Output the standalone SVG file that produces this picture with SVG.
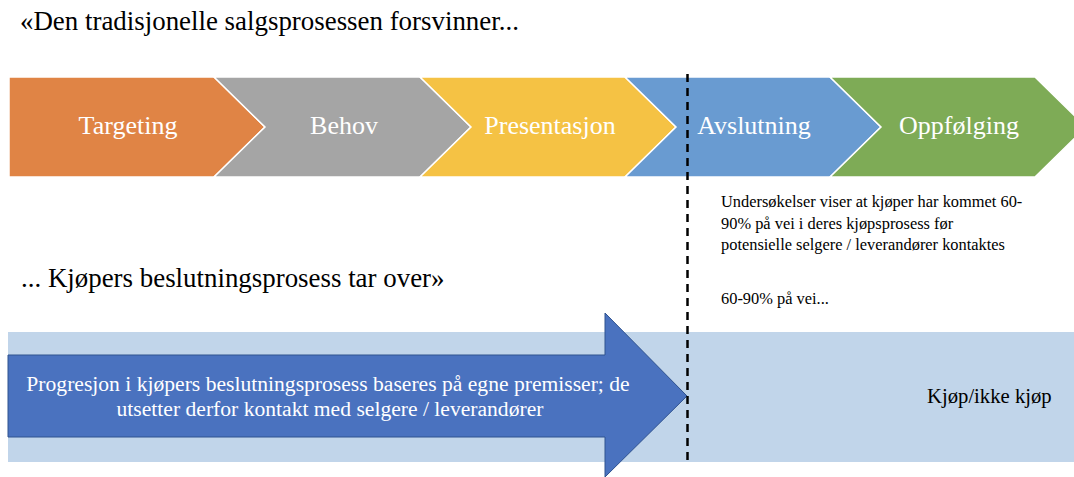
<svg xmlns="http://www.w3.org/2000/svg" width="1074" height="477" viewBox="0 0 1074 477">
  <style>
    text { font-family: "Liberation Serif", Tinos, "Times New Roman", "DejaVu Serif", serif; }
    .heading { font-size: 26.9px; fill: #000; }
    .step { stroke: #fff; stroke-width: 1.5; stroke-linejoin: miter; }
    .step-label { font-size: 26px; fill: #fff; text-anchor: middle; }
    .note { font-size: 16.4px; fill: #000; }
    .arrow-label { font-size: 21.6px; fill: #fff; text-anchor: middle; }
  </style>

  <rect width="1074" height="477" fill="#fff"/>

  <!-- Headings -->
  <text class="heading" x="20" y="30">«Den tradisjonelle salgsprosessen forsvinner...</text>
  <text class="heading" x="21" y="287">... Kjøpers beslutningsprosess tar over»</text>

  <!-- Sales process chevrons -->
  <g id="step-targeting">
    <polygon class="step" fill="#E08445" points="9,77 214,77 265,127 214,177 9,177"/>
    <text class="step-label" x="128" y="134">Targeting</text>
  </g>
  <g id="step-behov">
    <polygon class="step" fill="#A5A5A5" points="214,77 420,77 471,127 420,177 214,177 265,127"/>
    <text class="step-label" x="344" y="134">Behov</text>
  </g>
  <g id="step-presentasjon">
    <polygon class="step" fill="#F5C244" points="420,77 625,77 676,127 625,177 420,177 471,127"/>
    <text class="step-label" x="550" y="134">Presentasjon</text>
  </g>
  <g id="step-avslutning">
    <polygon class="step" fill="#699BD1" points="625,77 830,77 881,127 830,177 625,177 676,127"/>
    <text class="step-label" x="754" y="134">Avslutning</text>
  </g>
  <g id="step-oppfolging">
    <polygon class="step" fill="#7EAB56" points="830,77 1035,77 1086,127 1035,177 830,177 881,127"/>
    <text class="step-label" x="959" y="134">Oppfølging</text>
  </g>

  <!-- Notes on the right -->
  <g id="note-survey">
    <text class="note" x="721" y="207">Undersøkelser viser at kjøper har kommet 60-</text>
    <text class="note" x="721" y="228.5">90% på vei i deres kjøpsprosess før</text>
    <text class="note" x="721" y="250">potensielle selgere / leverandører kontaktes</text>
  </g>
  <g id="note-progress">
    <text class="note" x="721" y="304">60-90% på vei...</text>
  </g>

  <!-- Buyer decision band -->
  <g id="decision-band">
    <rect x="8" y="332" width="1066" height="130" fill="#C1D5EA"/>
    <text x="927" y="403" font-size="20.7" fill="#000">Kjøp/ikke kjøp</text>
  </g>

  <!-- Buyer progression arrow -->
  <g id="buyer-arrow">
    <polygon fill="#4A72BF" stroke="#2F528F" stroke-width="1"
             points="8,355 605,355 605,313 687,396 605,477 605,437 8,437"/>
    <text class="arrow-label" x="328" y="391">Progresjon i kjøpers beslutningsprosess baseres på egne premisser; de</text>
    <text class="arrow-label" x="330" y="416">utsetter derfor kontakt med selgere / leverandører</text>
  </g>

  <!-- Divider between seller phase and buyer phase -->
  <g id="connectors">
    <line x1="687.5" y1="74" x2="687.5" y2="463" stroke="#000" stroke-width="2.5" stroke-dasharray="8 6"/>
  </g>
</svg>
